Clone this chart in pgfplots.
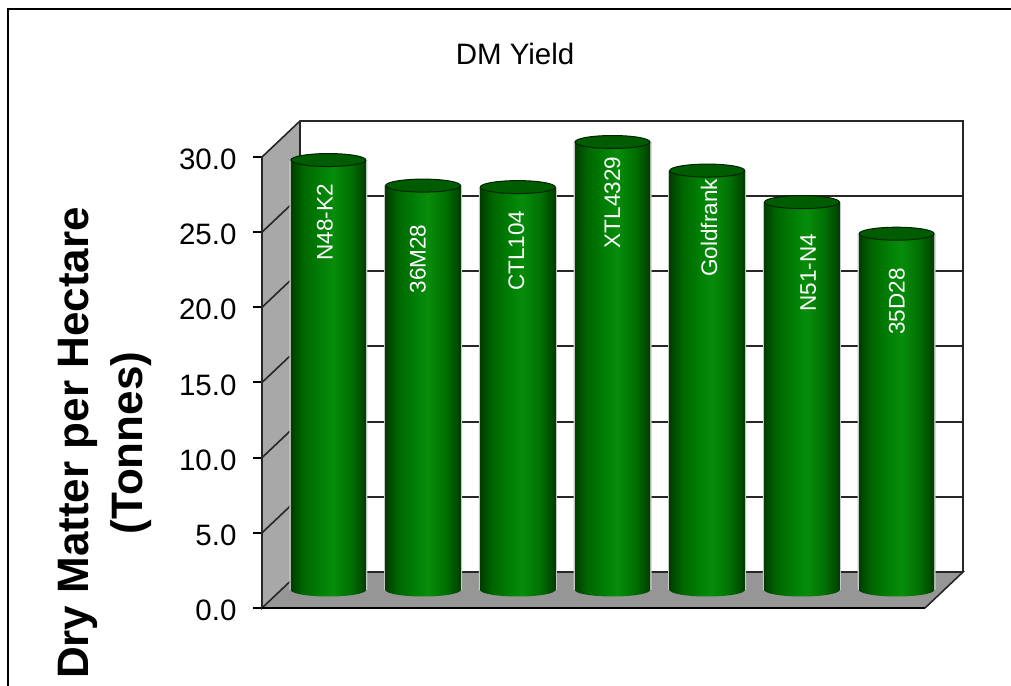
\documentclass[border=0pt]{standalone}
\usepackage{pgfplots}
\usepackage{pgfplotstable}
\usepackage{fontspec}
\setmainfont{Liberation Sans}
\pgfplotsset{compat=1.18}

\definecolor{sidewall}{RGB}{168,168,168}
\definecolor{floorgray}{RGB}{150,150,150}
\definecolor{capgreen}{RGB}{0,92,0}
\definecolor{rimgreen}{RGB}{0,35,0}

% light runs left to right over the cylinder body
\pgfdeclarehorizontalshading{cyl}{100bp}{
  rgb(0bp)=(0,0.22,0); rgb(25bp)=(0,0.24,0); rgb(33bp)=(0,0.40,0);
  rgb(45bp)=(0,0.50,0.02); rgb(53bp)=(0.03,0.55,0.04); rgb(65bp)=(0,0.44,0.01);
  rgb(75bp)=(0,0.24,0); rgb(100bp)=(0,0.22,0)}

\pgfdeclareplotmark{cyltop}{
  \pgfpathellipse{\pgfpointorigin}{\pgfqpoint{37.5pt}{0pt}}{\pgfqpoint{0pt}{6.5pt}}
  \pgfsetfillcolor{capgreen}
  \pgfsetstrokecolor{rimgreen}
  \pgfsetlinewidth{1pt}
  \pgfusepath{fill,stroke}
}
\pgfdeclareplotmark{cylbase}{
  \pgfpathellipse{\pgfpointorigin}{\pgfqpoint{37.5pt}{0pt}}{\pgfqpoint{0pt}{6.5pt}}
  \pgfshadepath{cyl}{0}
  \pgfusepath{discard}
}

% drop and off: where each rotated name sits, in pt from the top of its cylinder
\pgfplotstableread{
x val name drop off
0 28.6 N48-K2 62.2 -3.5
1 26.9 36M28 73.4 -5.2
2 26.8 CTL104 63.4 -1.4
3 29.8 XTL4329 60.5 -0.1
4 27.9 Goldfrank 57.4 1.8
5 25.8 N51-N4 70.4 6.2
6 23.7 35D28 67.8 0.2
}\yields

\begin{document}
\begin{tikzpicture}[x=1pt,y=1pt]
\path[use as bounding box] (0,0) rectangle (1011,685);
\draw[black,line width=2.5pt] (8,-5) -- (8,676) -- (1016,676);
\begin{axis}[
  scale only axis,
  width=701pt,
  height=487pt,
  at={(262pt,77pt)},
  anchor=south west,
  xmin=-0.5, xmax=6.9012,
  ymin=0, ymax=32.395,
  clip=false,
  unbounded coords=jump,
  axis line style={draw=none},
  xtick=\empty,
  ytick={0,5,10,15,20,25,30},
  ytick pos=left,
  tick align=outside,
  major tick length=9pt,
  ytick style={black,line width=2pt},
  yticklabel style={
    font=\fontsize{29.5}{32}\selectfont,
    /pgf/number format/fixed,
    /pgf/number format/fixed zerofill,
    /pgf/number format/precision=1,
    /pgf/number format/assume math mode=true,
    xshift=-13pt,yshift=-2.5pt},
  title={DM Yield},
  every axis title/.style={at={(axis description cs:0.361,1.1376)},anchor=center,font=\fontsize{29.5}{32}\selectfont},
  ylabel={Dry Matter per Hectare\\(Tonnes)},
  every axis y label/.style={at={(axis description cs:-0.2240,0.3388)},rotate=90,anchor=center,align=center,
    font=\fontsize{44}{54}\selectfont\bfseries},
]
% walls and floor
\addplot[fill=sidewall,draw=none] coordinates {(-0.5,0) (-0.0988,2.395) (-0.0988,32.395) (-0.5,30)} -- cycle;
\addplot[fill=floorgray,draw=none] coordinates {(-0.5,0) (-0.0988,2.395) (6.9012,2.395) (6.5,0)} -- cycle;
% grid on the back wall and the side wall
\addplot[black!85,line width=2pt] coordinates {
  (-0.0988,7.395) (6.9012,7.395) (6.9012,nan)
  (-0.0988,12.395) (6.9012,12.395) (6.9012,nan)
  (-0.0988,17.395) (6.9012,17.395) (6.9012,nan)
  (-0.0988,22.395) (6.9012,22.395) (6.9012,nan)
  (-0.0988,27.395) (6.9012,27.395)};
\addplot[black!85,line width=1.6pt] coordinates {
  (-0.5,5) (-0.0988,7.395) (-0.0988,nan)
  (-0.5,10) (-0.0988,12.395) (-0.0988,nan)
  (-0.5,15) (-0.0988,17.395) (-0.0988,nan)
  (-0.5,20) (-0.0988,22.395) (-0.0988,nan)
  (-0.5,25) (-0.0988,27.395) (-0.0988,nan)
  (-0.5,30) (-0.0988,32.395) (6.9012,32.395) (6.9012,2.395)};
\addplot[black!85,line width=1.6pt] coordinates {(-0.5,30) (-0.5,0) (-0.0988,2.395) (-0.0988,32.395)};
\addplot[black!85,line width=1.6pt] coordinates {(-0.0988,2.395) (6.9012,2.395) (6.5,0)};
\addplot[black,line width=2pt] coordinates {(-0.5,0) (6.5,0)};
% soft edge round the cylinders
\addplot[ybar,bar width=78pt,bar shift=0pt,fill=black!22,draw=none,xshift=19pt,yshift=18pt] table[x=x,y=val] {\yields};
% cylinders, stood on the middle of the floor
\addplot[only marks,mark=cylbase,xshift=19pt,yshift=18pt] table[x=x,y expr=0] {\yields};
\pgfplotsinvokeforeach{0,...,6}{
  \addplot[ybar,bar width=75pt,bar shift=0pt,shade,shading=cyl,draw=none,xshift=19pt,yshift=18pt,
    restrict x to domain=#1:#1] table[x=x,y=val] {\yields};
}
\addplot[only marks,mark=cyltop,xshift=19pt,yshift=18pt,
  point meta=explicit symbolic,
  visualization depends on={\thisrow{drop}\as\drop},
  visualization depends on={\thisrow{off}\as\off},
  nodes near coords,
  every node near coord/.append style={anchor=center,text=white,font=\fontsize{22.5}{24}\selectfont,
    yshift=-\drop pt,xshift=\off pt,rotate=90}
  ] table[x=x,y=val,meta=name] {\yields};
\end{axis}
\end{tikzpicture}
\end{document}
